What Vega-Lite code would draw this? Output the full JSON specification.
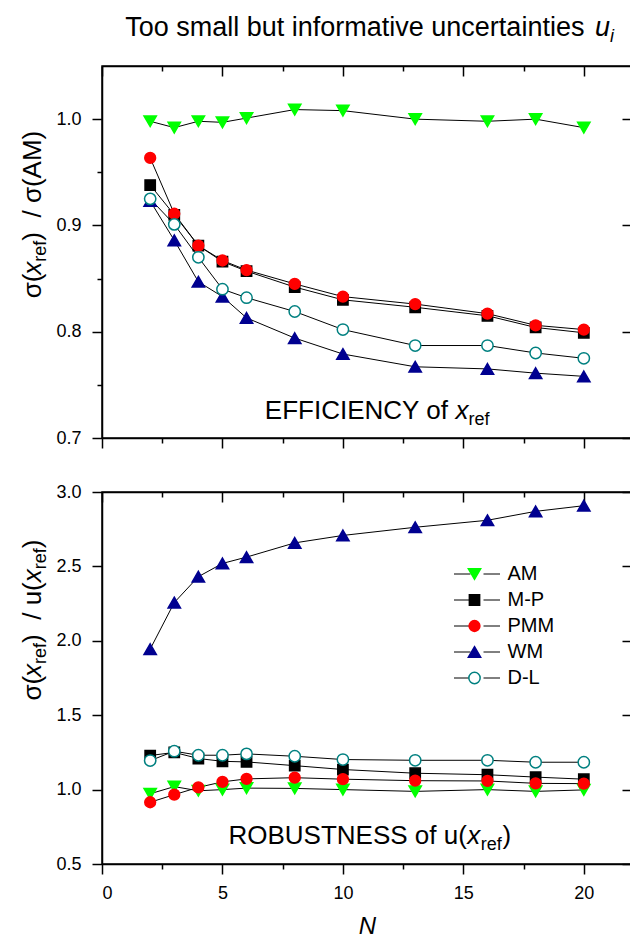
{
  "$schema": "https://vega.github.io/schema/vega-lite/v6.json",
  "background": "white",
  "padding": {"left": 18, "top": 13, "right": 0, "bottom": 0},
  "spacing": 54,
  "bounds": "flush",
  "datasets": {
    "eff": [
      {"N": 2, "series": "AM", "value": 0.998}, {"N": 3, "series": "AM", "value": 0.992}, {"N": 4, "series": "AM", "value": 0.998}, {"N": 5, "series": "AM", "value": 0.997}, {"N": 6, "series": "AM", "value": 1.001}, {"N": 8, "series": "AM", "value": 1.009}, {"N": 10, "series": "AM", "value": 1.008}, {"N": 13, "series": "AM", "value": 1.0}, {"N": 16, "series": "AM", "value": 0.998}, {"N": 18, "series": "AM", "value": 1.0}, {"N": 20, "series": "AM", "value": 0.992},
      {"N": 2, "series": "M-P", "value": 0.938}, {"N": 3, "series": "M-P", "value": 0.91}, {"N": 4, "series": "M-P", "value": 0.881}, {"N": 5, "series": "M-P", "value": 0.866}, {"N": 6, "series": "M-P", "value": 0.857}, {"N": 8, "series": "M-P", "value": 0.842}, {"N": 10, "series": "M-P", "value": 0.83}, {"N": 13, "series": "M-P", "value": 0.823}, {"N": 16, "series": "M-P", "value": 0.815}, {"N": 18, "series": "M-P", "value": 0.804}, {"N": 20, "series": "M-P", "value": 0.799},
      {"N": 2, "series": "PMM", "value": 0.9635}, {"N": 3, "series": "PMM", "value": 0.911}, {"N": 4, "series": "PMM", "value": 0.881}, {"N": 5, "series": "PMM", "value": 0.867}, {"N": 6, "series": "PMM", "value": 0.858}, {"N": 8, "series": "PMM", "value": 0.845}, {"N": 10, "series": "PMM", "value": 0.833}, {"N": 13, "series": "PMM", "value": 0.826}, {"N": 16, "series": "PMM", "value": 0.817}, {"N": 18, "series": "PMM", "value": 0.806}, {"N": 20, "series": "PMM", "value": 0.802},
      {"N": 2, "series": "WM", "value": 0.923}, {"N": 3, "series": "WM", "value": 0.886}, {"N": 4, "series": "WM", "value": 0.847}, {"N": 5, "series": "WM", "value": 0.833}, {"N": 6, "series": "WM", "value": 0.813}, {"N": 8, "series": "WM", "value": 0.794}, {"N": 10, "series": "WM", "value": 0.779}, {"N": 13, "series": "WM", "value": 0.767}, {"N": 16, "series": "WM", "value": 0.765}, {"N": 18, "series": "WM", "value": 0.761}, {"N": 20, "series": "WM", "value": 0.758},
      {"N": 2, "series": "D-L", "value": 0.925}, {"N": 3, "series": "D-L", "value": 0.901}, {"N": 4, "series": "D-L", "value": 0.87}, {"N": 5, "series": "D-L", "value": 0.84}, {"N": 6, "series": "D-L", "value": 0.832}, {"N": 8, "series": "D-L", "value": 0.819}, {"N": 10, "series": "D-L", "value": 0.802}, {"N": 13, "series": "D-L", "value": 0.787}, {"N": 16, "series": "D-L", "value": 0.787}, {"N": 18, "series": "D-L", "value": 0.78}, {"N": 20, "series": "D-L", "value": 0.775}
    ],
    "rob": [
      {"N": 2, "series": "AM", "value": 0.972}, {"N": 3, "series": "AM", "value": 1.02}, {"N": 4, "series": "AM", "value": 0.992}, {"N": 5, "series": "AM", "value": 1.0}, {"N": 6, "series": "AM", "value": 1.01}, {"N": 8, "series": "AM", "value": 1.008}, {"N": 10, "series": "AM", "value": 1.0}, {"N": 13, "series": "AM", "value": 0.988}, {"N": 16, "series": "AM", "value": 1.0}, {"N": 18, "series": "AM", "value": 0.988}, {"N": 20, "series": "AM", "value": 0.998},
      {"N": 2, "series": "M-P", "value": 1.229}, {"N": 3, "series": "M-P", "value": 1.25}, {"N": 4, "series": "M-P", "value": 1.209}, {"N": 5, "series": "M-P", "value": 1.19}, {"N": 6, "series": "M-P", "value": 1.186}, {"N": 8, "series": "M-P", "value": 1.161}, {"N": 10, "series": "M-P", "value": 1.135}, {"N": 13, "series": "M-P", "value": 1.11}, {"N": 16, "series": "M-P", "value": 1.1}, {"N": 18, "series": "M-P", "value": 1.084}, {"N": 20, "series": "M-P", "value": 1.07},
      {"N": 2, "series": "PMM", "value": 0.915}, {"N": 3, "series": "PMM", "value": 0.966}, {"N": 4, "series": "PMM", "value": 1.015}, {"N": 5, "series": "PMM", "value": 1.052}, {"N": 6, "series": "PMM", "value": 1.072}, {"N": 8, "series": "PMM", "value": 1.08}, {"N": 10, "series": "PMM", "value": 1.07}, {"N": 13, "series": "PMM", "value": 1.06}, {"N": 16, "series": "PMM", "value": 1.058}, {"N": 18, "series": "PMM", "value": 1.042}, {"N": 20, "series": "PMM", "value": 1.04},
      {"N": 2, "series": "WM", "value": 1.944}, {"N": 3, "series": "WM", "value": 2.257}, {"N": 4, "series": "WM", "value": 2.431}, {"N": 5, "series": "WM", "value": 2.52}, {"N": 6, "series": "WM", "value": 2.5625}, {"N": 8, "series": "WM", "value": 2.658}, {"N": 10, "series": "WM", "value": 2.708}, {"N": 13, "series": "WM", "value": 2.763}, {"N": 16, "series": "WM", "value": 2.81}, {"N": 18, "series": "WM", "value": 2.87}, {"N": 20, "series": "WM", "value": 2.908},
      {"N": 2, "series": "D-L", "value": 1.195}, {"N": 3, "series": "D-L", "value": 1.258}, {"N": 4, "series": "D-L", "value": 1.231}, {"N": 5, "series": "D-L", "value": 1.231}, {"N": 6, "series": "D-L", "value": 1.24}, {"N": 8, "series": "D-L", "value": 1.224}, {"N": 10, "series": "D-L", "value": 1.202}, {"N": 13, "series": "D-L", "value": 1.197}, {"N": 16, "series": "D-L", "value": 1.197}, {"N": 18, "series": "D-L", "value": 1.184}, {"N": 20, "series": "D-L", "value": 1.184}
    ]
  },
  "vconcat": [
    {
      "width": 530,
      "height": 372,
      "data": {"name": "eff"},
      "layer": [
        {
          "mark": {"type": "line", "color": "black", "strokeWidth": 1},
          "encoding": {
            "x": {"field": "N", "type": "quantitative", "scale": {"domain": [0, 22], "nice": false, "zero": false},
              "axis": {"orient": "bottom", "values": [0, 2.5, 5, 7.5, 10, 12.5, 15, 17.5, 20], "labels": false, "title": null,
                "tickSize": {"condition": {"test": "datum.value % 5 === 0", "value": 10}, "value": 5}}},
            "y": {"field": "value", "type": "quantitative", "scale": {"domain": [0.7, 1.05], "nice": false, "zero": false},
              "axis": {"orient": "left", "values": [0.7, 0.75, 0.8, 0.85, 0.9, 0.95, 1.0], "title": null, "labelPadding": 11,
                "labelExpr": "abs(datum.value*10 - round(datum.value*10)) < 0.001 ? format(datum.value, '.1f') : ''",
                "tickSize": {"condition": {"test": "abs(datum.value*10 - round(datum.value*10)) < 0.001", "value": 10}, "value": 5}}},
            "detail": {"field": "series", "type": "nominal"}
          }
        },
        {
          "mark": {"type": "point", "filled": true, "opacity": 1, "strokeWidth": 1.5, "size": 169},
          "encoding": {
            "x": {"field": "N", "type": "quantitative", "scale": {"domain": [0, 22], "nice": false, "zero": false},
              "axis": {"orient": "top", "values": [0, 2.5, 5, 7.5, 10, 12.5, 15, 17.5, 20], "labels": false, "title": null,
                "tickSize": {"condition": {"test": "datum.value % 5 === 0", "value": -10}, "value": -5}}},
            "y": {"field": "value", "type": "quantitative", "scale": {"domain": [0.7, 1.05], "nice": false, "zero": false},
              "axis": {"orient": "right", "values": [0.7, 0.8, 0.9, 1.0], "labels": false, "title": null, "tickSize": -10}},
            "shape": {"field": "series", "type": "nominal", "scale": {"domain": ["AM", "M-P", "PMM", "WM", "D-L"], "range": ["M-0.95,-0.82L0.95,-0.82L0,0.82Z", "M-0.79,-0.79L0.79,-0.79L0.79,0.79L-0.79,0.79Z", "M0.83,0A0.83,0.83,0,1,1,-0.83,0A0.83,0.83,0,1,1,0.83,0Z", "M0,-0.82L0.95,0.82L-0.95,0.82Z", "M0.87,0A0.87,0.87,0,1,1,-0.87,0A0.87,0.87,0,1,1,0.87,0Z"]}, "legend": null},
            "fill": {"field": "series", "type": "nominal", "scale": {"domain": ["AM", "M-P", "PMM", "WM", "D-L"], "range": ["#00ff00", "#000000", "#ff0000", "#000090", "#ffffff"]}, "legend": null},
            "stroke": {"field": "series", "type": "nominal", "scale": {"domain": ["AM", "M-P", "PMM", "WM", "D-L"], "range": ["#00ff00", "#000000", "#ff0000", "#000090", "#008080"]}, "legend": null}
          }
        },
        {
          "data": {"values": [{}]},
          "mark": {"type": "text", "text": "Too small but informative uncertainties", "align": "left", "baseline": "alphabetic", "fontSize": 27},
          "encoding": {"x": {"datum": 0.963, "type": "quantitative", "scale": {"domain": [0, 22]}, "axis": null}, "y": {"datum": 1.0783, "type": "quantitative", "scale": {"domain": [0.7, 1.05]}, "axis": null}}
        },
        {
          "data": {"values": [{}]},
          "mark": {"type": "text", "text": "u", "align": "left", "baseline": "alphabetic", "fontSize": 27, "fontStyle": "italic", "dx": 469.7},
          "encoding": {"x": {"datum": 0.963, "type": "quantitative", "scale": {"domain": [0, 22]}, "axis": null}, "y": {"datum": 1.0783, "type": "quantitative", "scale": {"domain": [0.7, 1.05]}, "axis": null}}
        },
        {
          "data": {"values": [{}]},
          "mark": {"type": "text", "text": "i", "align": "left", "baseline": "alphabetic", "fontSize": 18, "fontStyle": "italic", "dx": 484.7, "dy": 6},
          "encoding": {"x": {"datum": 0.963, "type": "quantitative", "scale": {"domain": [0, 22]}, "axis": null}, "y": {"datum": 1.0783, "type": "quantitative", "scale": {"domain": [0.7, 1.05]}, "axis": null}}
        },
        {
          "data": {"values": [{}]},
          "mark": {"type": "text", "text": "EFFICIENCY of", "align": "left", "baseline": "alphabetic", "fontSize": 26},
          "encoding": {"x": {"datum": 6.76, "type": "quantitative", "scale": {"domain": [0, 22]}, "axis": null}, "y": {"datum": 0.7182, "type": "quantitative", "scale": {"domain": [0.7, 1.05]}, "axis": null}}
        },
        {
          "data": {"values": [{}]},
          "mark": {"type": "text", "text": "x", "align": "left", "baseline": "alphabetic", "fontSize": 26, "fontStyle": "italic", "dx": 190.7},
          "encoding": {"x": {"datum": 6.76, "type": "quantitative", "scale": {"domain": [0, 22]}, "axis": null}, "y": {"datum": 0.7182, "type": "quantitative", "scale": {"domain": [0.7, 1.05]}, "axis": null}}
        },
        {
          "data": {"values": [{}]},
          "mark": {"type": "text", "text": "ref", "align": "left", "baseline": "alphabetic", "fontSize": 18, "dx": 203.7, "dy": 6},
          "encoding": {"x": {"datum": 6.76, "type": "quantitative", "scale": {"domain": [0, 22]}, "axis": null}, "y": {"datum": 0.7182, "type": "quantitative", "scale": {"domain": [0.7, 1.05]}, "axis": null}}
        },
        {
          "data": {"values": [{}]},
          "mark": {"type": "text", "text": "σ(", "align": "left", "baseline": "alphabetic", "fontSize": 26, "angle": 270},
          "encoding": {"x": {"datum": -2.55, "type": "quantitative", "scale": {"domain": [0, 22]}, "axis": null}, "y": {"datum": 0.8314, "type": "quantitative", "scale": {"domain": [0.7, 1.05]}, "axis": null}}
        },
        {
          "data": {"values": [{}]},
          "mark": {"type": "text", "text": "x", "align": "left", "baseline": "alphabetic", "fontSize": 26, "fontStyle": "italic", "angle": 270, "dx": 23.7},
          "encoding": {"x": {"datum": -2.55, "type": "quantitative", "scale": {"domain": [0, 22]}, "axis": null}, "y": {"datum": 0.8314, "type": "quantitative", "scale": {"domain": [0.7, 1.05]}, "axis": null}}
        },
        {
          "data": {"values": [{}]},
          "mark": {"type": "text", "text": "ref", "align": "left", "baseline": "alphabetic", "fontSize": 18, "angle": 270, "dx": 36.7, "dy": 5},
          "encoding": {"x": {"datum": -2.55, "type": "quantitative", "scale": {"domain": [0, 22]}, "axis": null}, "y": {"datum": 0.8314, "type": "quantitative", "scale": {"domain": [0.7, 1.05]}, "axis": null}}
        },
        {
          "data": {"values": [{}]},
          "mark": {"type": "text", "text": ")\u00a0\u00a0/ σ(AM)", "align": "left", "baseline": "alphabetic", "fontSize": 26, "angle": 270, "dx": 57.7},
          "encoding": {"x": {"datum": -2.55, "type": "quantitative", "scale": {"domain": [0, 22]}, "axis": null}, "y": {"datum": 0.8314, "type": "quantitative", "scale": {"domain": [0.7, 1.05]}, "axis": null}}
        }
      ],
      "resolve": {"axis": {"x": "independent", "y": "independent"}}
    },
    {
      "width": 530,
      "height": 372,
      "data": {"name": "rob"},
      "layer": [
        {
          "mark": {"type": "line", "color": "black", "strokeWidth": 1},
          "encoding": {
            "x": {"field": "N", "type": "quantitative", "scale": {"domain": [0, 22], "nice": false, "zero": false},
              "axis": {"orient": "bottom", "values": [0, 2.5, 5, 7.5, 10, 12.5, 15, 17.5, 20], "labelExpr": "datum.value % 5 === 0 ? datum.label : ''", "labelPadding": 10,
                "title": "N", "titleFontStyle": "italic", "titleFontSize": 24, "titleFontWeight": "normal", "titlePadding": 12,
                "tickSize": {"condition": {"test": "datum.value % 5 === 0", "value": 10}, "value": 5}}},
            "y": {"field": "value", "type": "quantitative", "scale": {"domain": [0.5, 3.0], "nice": false, "zero": false},
              "axis": {"orient": "left", "values": [0.5, 1.0, 1.5, 2.0, 2.5, 3.0], "format": ".1f", "title": null, "labelPadding": 11, "tickSize": 10}},
            "color": {"field": "series", "type": "nominal", "sort": ["AM", "M-P", "PMM", "WM", "D-L"],
              "scale": {"range": ["#000000", "#000000", "#000000", "#000000", "#000000"]},
              "legend": {"orient": "none", "legendX": 351.5, "legendY": 72, "title": null, "symbolType": "stroke", "symbolSize": 2116,
                "symbolDash": [16.5, 13], "symbolStrokeWidth": 1, "symbolStrokeColor": "black", "labelFontSize": 20, "labelOffset": 7, "clipHeight": 20, "rowPadding": 6, "padding": 0}}
          }
        },
        {
          "mark": {"type": "point", "filled": true, "opacity": 1, "strokeWidth": 1.5, "size": 169},
          "encoding": {
            "x": {"field": "N", "type": "quantitative", "scale": {"domain": [0, 22], "nice": false, "zero": false},
              "axis": {"orient": "top", "values": [0, 2.5, 5, 7.5, 10, 12.5, 15, 17.5, 20], "labels": false, "title": null,
                "tickSize": {"condition": {"test": "datum.value % 5 === 0", "value": -10}, "value": -5}}},
            "y": {"field": "value", "type": "quantitative", "scale": {"domain": [0.5, 3.0], "nice": false, "zero": false},
              "axis": {"orient": "right", "values": [0.5, 1.0, 1.5, 2.0, 2.5, 3.0], "labels": false, "title": null, "tickSize": -10}},
            "shape": {"field": "series", "type": "nominal", "scale": {"domain": ["AM", "M-P", "PMM", "WM", "D-L"], "range": ["M-0.95,-0.82L0.95,-0.82L0,0.82Z", "M-0.79,-0.79L0.79,-0.79L0.79,0.79L-0.79,0.79Z", "M0.83,0A0.83,0.83,0,1,1,-0.83,0A0.83,0.83,0,1,1,0.83,0Z", "M0,-0.82L0.95,0.82L-0.95,0.82Z", "M0.87,0A0.87,0.87,0,1,1,-0.87,0A0.87,0.87,0,1,1,0.87,0Z"]},
              "legend": {"orient": "top-right", "offset": 72, "title": null, "symbolSize": 169, "symbolStrokeWidth": 1.5, "labelOpacity": 0, "labelFontSize": 1, "labelOffset": 74.7, "clipHeight": 20, "rowPadding": 6, "padding": 0}},
            "fill": {"field": "series", "type": "nominal", "scale": {"domain": ["AM", "M-P", "PMM", "WM", "D-L"], "range": ["#00ff00", "#000000", "#ff0000", "#000090", "#ffffff"]}},
            "stroke": {"field": "series", "type": "nominal", "scale": {"domain": ["AM", "M-P", "PMM", "WM", "D-L"], "range": ["#00ff00", "#000000", "#ff0000", "#000090", "#008080"]}}
          }
        },
        {
          "data": {"values": [{}]},
          "mark": {"type": "text", "text": "ROBUSTNESS of u(", "align": "left", "baseline": "alphabetic", "fontSize": 26},
          "encoding": {"x": {"datum": 5.25, "type": "quantitative", "scale": {"domain": [0, 22]}, "axis": null}, "y": {"datum": 0.635, "type": "quantitative", "scale": {"domain": [0.5, 3.0]}, "axis": null}}
        },
        {
          "data": {"values": [{}]},
          "mark": {"type": "text", "text": "x", "align": "left", "baseline": "alphabetic", "fontSize": 26, "fontStyle": "italic", "dx": 238.8},
          "encoding": {"x": {"datum": 5.25, "type": "quantitative", "scale": {"domain": [0, 22]}, "axis": null}, "y": {"datum": 0.635, "type": "quantitative", "scale": {"domain": [0.5, 3.0]}, "axis": null}}
        },
        {
          "data": {"values": [{}]},
          "mark": {"type": "text", "text": "ref", "align": "left", "baseline": "alphabetic", "fontSize": 18, "dx": 252.3, "dy": 6},
          "encoding": {"x": {"datum": 5.25, "type": "quantitative", "scale": {"domain": [0, 22]}, "axis": null}, "y": {"datum": 0.635, "type": "quantitative", "scale": {"domain": [0.5, 3.0]}, "axis": null}}
        },
        {
          "data": {"values": [{}]},
          "mark": {"type": "text", "text": ")", "align": "left", "baseline": "alphabetic", "fontSize": 26, "dx": 274},
          "encoding": {"x": {"datum": 5.25, "type": "quantitative", "scale": {"domain": [0, 22]}, "axis": null}, "y": {"datum": 0.635, "type": "quantitative", "scale": {"domain": [0.5, 3.0]}, "axis": null}}
        },
        {
          "data": {"values": [{}]},
          "mark": {"type": "text", "text": "σ(", "align": "left", "baseline": "alphabetic", "fontSize": 26, "angle": 270},
          "encoding": {"x": {"datum": -2.55, "type": "quantitative", "scale": {"domain": [0, 22]}, "axis": null}, "y": {"datum": 1.598, "type": "quantitative", "scale": {"domain": [0.5, 3.0]}, "axis": null}}
        },
        {
          "data": {"values": [{}]},
          "mark": {"type": "text", "text": "x", "align": "left", "baseline": "alphabetic", "fontSize": 26, "fontStyle": "italic", "angle": 270, "dx": 23.7},
          "encoding": {"x": {"datum": -2.55, "type": "quantitative", "scale": {"domain": [0, 22]}, "axis": null}, "y": {"datum": 1.598, "type": "quantitative", "scale": {"domain": [0.5, 3.0]}, "axis": null}}
        },
        {
          "data": {"values": [{}]},
          "mark": {"type": "text", "text": "ref", "align": "left", "baseline": "alphabetic", "fontSize": 18, "angle": 270, "dx": 36.7, "dy": 5},
          "encoding": {"x": {"datum": -2.55, "type": "quantitative", "scale": {"domain": [0, 22]}, "axis": null}, "y": {"datum": 1.598, "type": "quantitative", "scale": {"domain": [0.5, 3.0]}, "axis": null}}
        },
        {
          "data": {"values": [{}]},
          "mark": {"type": "text", "text": ")\u00a0\u00a0/ u(", "align": "left", "baseline": "alphabetic", "fontSize": 26, "angle": 270, "dx": 57.7},
          "encoding": {"x": {"datum": -2.55, "type": "quantitative", "scale": {"domain": [0, 22]}, "axis": null}, "y": {"datum": 1.598, "type": "quantitative", "scale": {"domain": [0.5, 3.0]}, "axis": null}}
        },
        {
          "data": {"values": [{}]},
          "mark": {"type": "text", "text": "x", "align": "left", "baseline": "alphabetic", "fontSize": 26, "fontStyle": "italic", "angle": 270, "dx": 118.4},
          "encoding": {"x": {"datum": -2.55, "type": "quantitative", "scale": {"domain": [0, 22]}, "axis": null}, "y": {"datum": 1.598, "type": "quantitative", "scale": {"domain": [0.5, 3.0]}, "axis": null}}
        },
        {
          "data": {"values": [{}]},
          "mark": {"type": "text", "text": "ref", "align": "left", "baseline": "alphabetic", "fontSize": 18, "angle": 270, "dx": 131.4, "dy": 5},
          "encoding": {"x": {"datum": -2.55, "type": "quantitative", "scale": {"domain": [0, 22]}, "axis": null}, "y": {"datum": 1.598, "type": "quantitative", "scale": {"domain": [0.5, 3.0]}, "axis": null}}
        },
        {
          "data": {"values": [{}]},
          "mark": {"type": "text", "text": ")", "align": "left", "baseline": "alphabetic", "fontSize": 26, "angle": 270, "dx": 152.4},
          "encoding": {"x": {"datum": -2.55, "type": "quantitative", "scale": {"domain": [0, 22]}, "axis": null}, "y": {"datum": 1.598, "type": "quantitative", "scale": {"domain": [0.5, 3.0]}, "axis": null}}
        }
      ],
      "resolve": {"axis": {"x": "independent", "y": "independent"}}
    }
  ],
  "resolve": {"scale": {"color": "independent", "fill": "independent", "stroke": "independent", "shape": "independent"}},
  "config": {
    "font": "Liberation Sans",
    "view": {"stroke": "black", "strokeWidth": 1.5},
    "axis": {"domainColor": "black", "domainWidth": 1.5, "tickColor": "black", "tickWidth": 1.5, "labelFont": "Liberation Sans", "labelFontSize": 18, "labelColor": "black", "titleFont": "Liberation Sans", "titleColor": "black", "grid": false},
    "legend": {"labelFont": "Liberation Sans", "labelColor": "black"},
    "text": {"font": "Liberation Sans", "color": "black"}
  }
}
